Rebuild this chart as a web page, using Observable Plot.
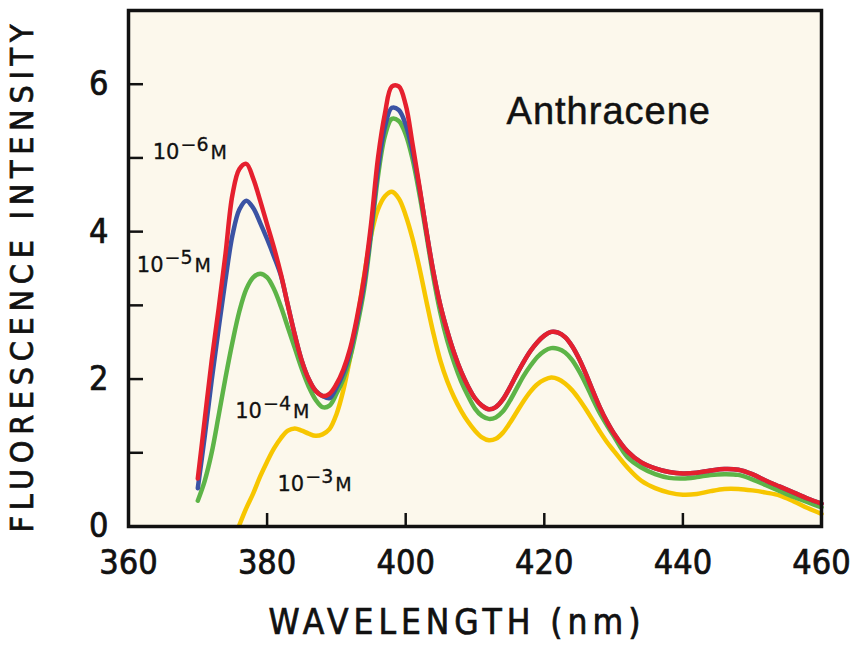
<!DOCTYPE html>
<html><head><meta charset="utf-8">
<script src="https://cdn.jsdelivr.net/npm/d3@7"></script>
<script src="https://cdn.jsdelivr.net/npm/@observablehq/plot@0.6"></script>
<style>
html,body{margin:0;padding:0;background:#fff;}
#chart svg{display:block;}
#chart svg text{stroke:#111;stroke-width:0.7px;paint-order:stroke;}
</style></head><body><div id="chart"></div>
<script>
// Wavelength grid (nm)
const wavelength = [370,371,372,373,374,375,376,377,378,379,380,381,382,383,384,385,386,387,388,389,
  390,391,392,393,394,395,396,397,398,399,400,401,402,403,404,405,406,407,408,409,
  410,411,412,413,414,415,416,417,418,419,420,421,422,423,424,425,426,427,428,429,
  430,432,434,436,438,440,442,444,446,448,450,452,454,456,458,460];

// 10^-6 M (red)
const int1e6 = [0.65,1.45,2.25,2.95,3.7,4.5,4.85,4.92,4.72,4.42,4.1,3.78,3.42,3.0,2.6,2.25,2.0,1.84,1.77,1.8,
  1.93,2.13,2.42,2.85,3.38,4.1,5.0,5.6,5.97,5.97,5.72,5.18,4.6,4.0,3.45,3.0,2.65,2.35,2.1,1.9,
  1.74,1.64,1.59,1.62,1.72,1.88,2.06,2.23,2.38,2.5,2.59,2.64,2.63,2.57,2.45,2.28,2.07,1.84,1.62,1.43,
  1.27,1.02,0.87,0.79,0.74,0.72,0.73,0.76,0.78,0.77,0.71,0.62,0.54,0.46,0.38,0.31];

// 10^-5 M (blue)
const int1e5 = [0.52,1.22,1.98,2.68,3.35,3.95,4.3,4.42,4.32,4.12,3.9,3.66,3.4,3.0,2.6,2.25,2.0,1.84,1.77,1.74,
  1.88,2.08,2.38,2.8,3.3,4.02,4.85,5.42,5.68,5.65,5.45,5.08,4.58,4.0,3.45,3.0,2.65,2.35,2.1,1.9,
  1.74,1.64,1.59,1.62,1.72,1.88,2.06,2.23,2.38,2.5,2.59,2.64,2.63,2.57,2.45,2.28,2.07,1.84,1.62,1.43,
  1.27,1.02,0.87,0.79,0.74,0.72,0.73,0.76,0.78,0.77,0.71,0.62,0.54,0.46,0.38,0.31];

// 10^-4 M (green)
const int1e4 = [0.35,0.62,1.0,1.5,2.02,2.5,2.92,3.22,3.38,3.43,3.38,3.22,2.98,2.7,2.42,2.14,1.9,1.72,1.62,1.64,
  1.8,2.0,2.3,2.72,3.22,3.95,4.75,5.3,5.53,5.5,5.32,4.98,4.5,3.95,3.38,2.9,2.52,2.22,1.97,1.77,
  1.6,1.5,1.46,1.48,1.56,1.7,1.87,2.04,2.18,2.3,2.38,2.42,2.41,2.36,2.26,2.11,1.93,1.73,1.54,1.38,
  1.23,0.94,0.8,0.71,0.66,0.65,0.67,0.7,0.71,0.7,0.64,0.56,0.48,0.4,0.33,0.26];

// 10^-3 M (yellow)
const int1e3 = [null,null,null,null,null,null,0.02,0.25,0.45,0.68,0.88,1.06,1.2,1.3,1.33,1.3,1.26,1.23,1.25,1.32,
  1.52,1.85,2.3,2.8,3.4,3.95,4.3,4.48,4.54,4.45,4.22,3.9,3.5,3.05,2.62,2.25,1.97,1.75,1.57,1.42,
  1.3,1.21,1.17,1.19,1.27,1.4,1.55,1.7,1.83,1.93,1.99,2.02,2.0,1.94,1.85,1.73,1.59,1.44,1.29,1.15,
  1.03,0.8,0.62,0.52,0.46,0.43,0.44,0.48,0.51,0.51,0.49,0.46,0.42,0.34,0.25,0.17];

// Series (drawing order: bottom to top)
const seriesNames = ["10⁻³ M", "10⁻⁴ M", "10⁻⁵ M", "10⁻⁶ M"];
const seriesValues = [int1e3, int1e4, int1e5, int1e6];
const seriesColors = ["#f7c600", "#5db447", "#3b53a4", "#e5202e"];

// Ticks
const xTicks = [360, 380, 400, 420, 440, 460];
const yLabelTicks = [0, 2, 4, 6];
const yAllTicks = [0, 1, 2, 3, 4, 5, 6];

// Direct labels
const labelBase = ["10", "10", "10", "10"];
const labelExp = ["−6", "−5", "−4", "−3"];
const labelUnit = ["M", "M", "M", "M"];
const labelX = [363.5, 361.2, 375.4, 381.5];
const labelY = [5.08, 3.55, 1.57, 0.57];

const annotText = ["Anthracene"];
const annotX = [429.3];
const annotY = [5.62];

const xTitle = "WAVELENGTH (nm)";
const yTitle = "FLUORESCENCE INTENSITY";

const rows = [];
seriesNames.forEach((name, s) => {
  wavelength.forEach((wl, i) => {
    const v = seriesValues[s][i];
    if (v != null) rows.push({wl, v, series: name});
  });
});
const labels = labelBase.map((b, i) => ({x: labelX[i], y: labelY[i], t: b + "|" + labelExp[i] + "|" + labelUnit[i]}));
const annots = annotText.map((t, i) => ({x: annotX[i], y: annotY[i], t}));

const narrow = "'Liberation Sans Narrow','DejaVu Sans Condensed','Arial Narrow',sans-serif";

const chart = Plot.plot({
  width: 852, height: 656,
  marginLeft: 128, marginRight: 31, marginTop: 10, marginBottom: 130,
  x: {domain: [360, 460]},
  y: {domain: [0, 7]},
  color: {domain: seriesNames, range: seriesColors},
  style: {fontFamily: narrow, background: "white", color: "#111"},
  marks: [
    Plot.frame({fill: "#fcf8ec", stroke: null}),
    Plot.line(rows, {x: "wl", y: "v", z: "series", stroke: "series", strokeWidth: 4.5, curve: "catmull-rom"}),
    Plot.axisY(yAllTicks, {tickSize: -15, strokeWidth: 2.5, tickFormat: () => "", label: null}),
    Plot.axisY(yLabelTicks, {tickSize: 0, tickPadding: 20, fontSize: 34, tickFormat: d => String(d), label: null}),
    Plot.axisX(xTicks, {tickSize: -13, strokeWidth: 2.5, tickFormat: () => "", label: null}),
    Plot.axisX(xTicks, {tickSize: 0, tickPadding: 23, fontSize: 34, tickFormat: d => String(d), label: null}),
    Plot.frame({stroke: "#111", strokeWidth: 3.5}),
    Plot.text(labels, {x: "x", y: "y", text: "t", textAnchor: "start", fontSize: 21, fontFamily: "DejaVu Sans, sans-serif", fill: "#111"}),
    Plot.text(annots, {x: "x", y: "y", text: "t", fontSize: 38, fontFamily: "Liberation Sans, Arial, sans-serif", fill: "#111"}),
    Plot.text([xTitle], {text: d => d, frameAnchor: "bottom-left", textAnchor: "start", dx: 140, dy: 107, fontSize: 35, fill: "#111"}),
    Plot.text([yTitle], {text: d => d, frameAnchor: "bottom-left", textAnchor: "start", dx: -96, dy: 6, rotate: -90, fontSize: 32, fill: "#111"})
  ]
});

const svg = d3.select(chart);
svg.selectAll("text").each(function() {
  const el = d3.select(this);
  const s = el.text();
  if (s.includes("|")) {
    const [b, e, u] = s.split("|");
    el.text(null);
    el.style("stroke-width", "0.3px");
    el.append("tspan").text(b);
    el.append("tspan").attr("dx", 1).attr("dy", -8).attr("font-size", 19).text(e);
    el.append("tspan").attr("dx", 2).attr("dy", 8).attr("font-size", 19).text(u);
  } else if (s === xTitle) {
    el.attr("textLength", 372).attr("lengthAdjust", "spacing");
  } else if (s === yTitle) {
    el.attr("textLength", 508).attr("lengthAdjust", "spacing");
  } else if (s === "Anthracene") {
    el.style("letter-spacing", "1px").style("stroke-width", "0.5px");
  }
});
document.getElementById("chart").appendChild(chart);
</script>
</body></html>
